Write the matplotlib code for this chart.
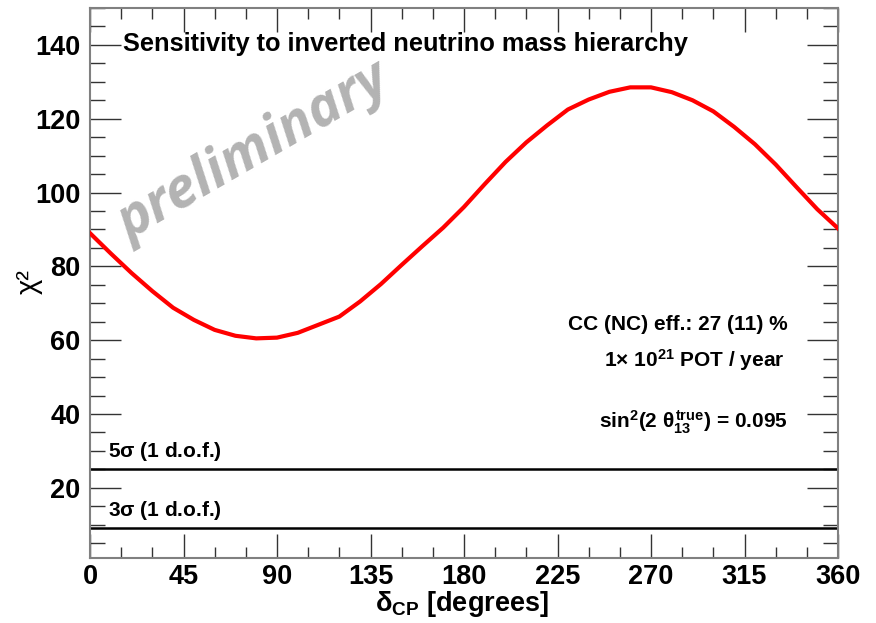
import numpy as np
import matplotlib
matplotlib.use("Agg")
import matplotlib.pyplot as plt
from matplotlib.ticker import MultipleLocator

plt.rcParams['font.family'] = ['Liberation Sans', 'DejaVu Sans']
plt.rcParams['mathtext.fontset'] = 'custom'
plt.rcParams['mathtext.rm'] = 'Liberation Sans:bold'
plt.rcParams['mathtext.it'] = 'Liberation Sans:bold'
plt.rcParams['mathtext.bf'] = 'Liberation Sans:bold'

# delta_CP (degrees) vs chi^2
delta_cp = [0, 10, 20, 30, 40, 50, 60, 70, 80, 90, 100, 110, 120, 130, 140,
            150, 160, 170, 180, 190, 200, 210, 220, 230, 240, 250, 260, 270,
            280, 290, 300, 310, 320, 330, 340, 350, 360]
chi2 = [89.0, 83.5, 78.2, 73.3, 68.8, 65.5, 62.8, 61.2, 60.5, 60.7, 62.0,
        64.2, 66.4, 70.5, 75.2, 80.4, 85.5, 90.5, 96.1, 102.3, 108.3, 113.6,
        118.2, 122.5, 125.2, 127.3, 128.5, 128.5, 127.2, 125.0, 122.0, 117.8,
        113.1, 107.6, 101.5, 95.5, 90.3]

sigma_levels = [25, 9]
sigma_labels = [r'5$\sigma$ (1 d.o.f.)', r'3$\sigma$ (1 d.o.f.)']
x_ticks = [0, 45, 90, 135, 180, 225, 270, 315, 360]
y_ticks = [20, 40, 60, 80, 100, 120, 140]

fig = plt.figure(figsize=(8.76, 6.23), dpi=100)
ax = fig.add_axes([90/876, 1-558/623, 748/876, 550/623])

ax.plot(delta_cp, chi2, color='red', lw=3, zorder=3)
for lev in sigma_levels:
    ax.axhline(lev, color='black', lw=1.8, zorder=2)

ax.set_xlim(0, 360)
ax.set_ylim(1, 150)
ax.set_xticks(x_ticks)
ax.set_yticks(y_ticks)
ax.xaxis.set_minor_locator(MultipleLocator(15))
ax.yaxis.set_minor_locator(MultipleLocator(5))
ax.tick_params(which='both', direction='in', top=True, right=True,
               color='#333333', width=1.0)
ax.tick_params(axis='y', which='major', length=22, pad=7)
ax.tick_params(axis='y', which='minor', length=11)
ax.tick_params(axis='x', which='major', length=17, pad=4)
ax.tick_params(axis='x', which='minor', length=8)
for lab in ax.get_xticklabels() + ax.get_yticklabels():
    lab.set_fontsize(19.5)
    lab.set_fontweight('bold')
for s in ax.spines.values():
    s.set_color('#808080')
    s.set_linewidth(1.5)

fig.text(462/876, 1-611/623, r'$\mathregular{\delta}_{\mathrm{CP}}$ [degrees]',
         fontsize=19.5, fontweight='bold', ha='center', va='baseline')
fig.text(29/876, 1-282/623, 'χ²', fontsize=21, rotation=90, ha='center', va='center')

ax.text(123/876, 1-44/623, 'Sensitivity to inverted neutrino mass hierarchy',
        transform=fig.transFigure, fontsize=18.3, fontweight='bold', va='center')

ax.text(254/876, 1-152/623, 'preliminary', transform=fig.transFigure,
        fontsize=40, fontweight='bold', style='italic', color='#b3b3b3',
        rotation=30, ha='center', va='center', family=['Open Sans', 'DejaVu Sans'])

ax.text(788/876, 1-324/623, 'CC (NC) eff.: 27 (11) %', transform=fig.transFigure,
        fontsize=15, fontweight='bold', ha='right', va='center')
ax.text(785/876, 1-360/623, r'1$\times$ 10$^{21}$ POT / year', transform=fig.transFigure,
        fontsize=15, fontweight='bold', ha='right', va='center')
ax.text(788/876, 1-422/623, r'sin$^{2}$(2 $\theta_{13}^{\mathrm{true}}$) = 0.095',
        transform=fig.transFigure, fontsize=15, fontweight='bold', ha='right', va='center')

for lev, lab in zip(sigma_levels, sigma_labels):
    ax.text(8.5, lev + 1.8, lab, fontsize=15, fontweight='bold', va='bottom')

fig.savefig('out.png', dpi=100)
